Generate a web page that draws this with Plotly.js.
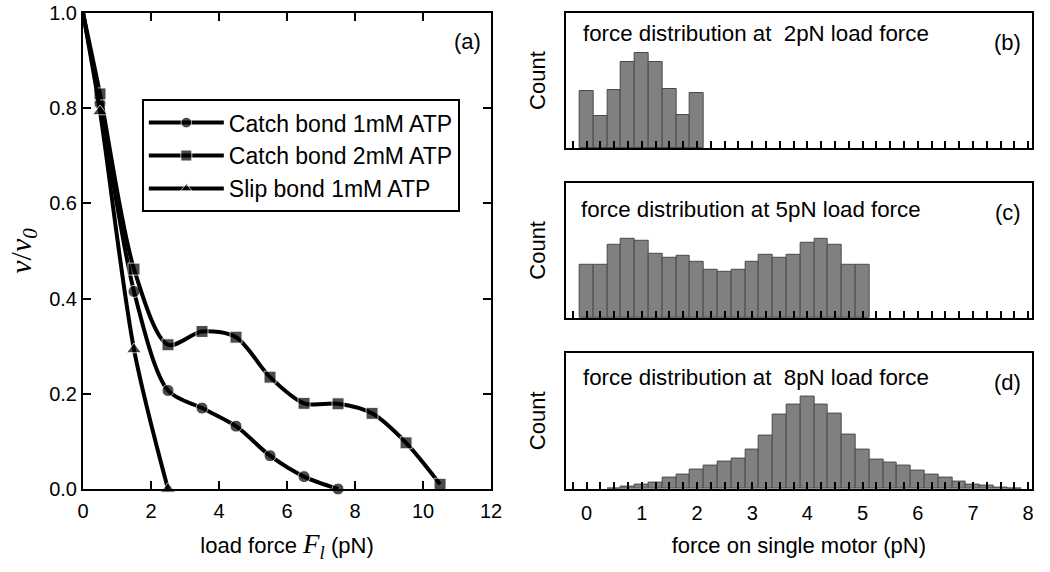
<!DOCTYPE html>
<html>
<head>
<meta charset="utf-8">
<script src="https://cdn.plot.ly/plotly-3.0.1.min.js"></script>
<style>body{margin:0;background:#fff;}#chart{width:1050px;height:572px;}</style>
</head>
<body>
<div id="chart"></div>
<script>
// ---- Panel (a): v/v0 vs load force ----
var loadForce1 = [0, 0.5, 1.5, 2.5, 3.5, 4.5, 5.5, 6.5, 7.5];
var catch1mM   = [1.0, 0.81, 0.415, 0.207, 0.17, 0.132, 0.07, 0.026, 0.0];
var loadForce2 = [0, 0.5, 1.5, 2.5, 3.5, 4.5, 5.5, 6.5, 7.5, 8.5, 9.5, 10.5];
var catch2mM   = [1.0, 0.83, 0.462, 0.303, 0.331, 0.319, 0.235, 0.18, 0.179, 0.159, 0.097, 0.01];
var loadForceS = [0, 0.5, 1.5, 2.5];
var slip1mM    = [1.0, 0.793, 0.293, 0.0];

// ---- Panels (b)-(d): force distributions (arbitrary count units) ----
var binsB = [0, 0.25, 0.5, 0.75, 1.0, 1.25, 1.5, 1.75, 2.0];
var countsB = [57.3, 32.3, 59, 86.7, 95.7, 86.3, 59.3, 33, 56];
var binsC = [0, 0.25, 0.5, 0.75, 1.0, 1.25, 1.5, 1.75, 2.0, 2.25, 2.5, 2.75, 3.0, 3.25, 3.5, 3.75, 4.0, 4.25, 4.5, 4.75, 5.0];
var countsC = [53.3, 53.3, 74, 79.7, 77.3, 65, 60.3, 63, 56.3, 48.7, 46, 48.7, 56, 64, 61, 64, 76, 80, 73.7, 53.3, 53];
var binsD = [0.5, 0.75, 1.0, 1.25, 1.5, 1.75, 2.0, 2.25, 2.5, 2.75, 3.0, 3.25, 3.5, 3.75, 4.0, 4.25, 4.5, 4.75, 5.0, 5.25, 5.5, 5.75, 6.0, 6.25, 6.5, 6.75, 7.0, 7.25, 7.5, 7.75];
var countsD = [0.7, 2.3, 4, 6.7, 11, 14, 19, 23, 27, 30, 39, 53, 74, 84, 92, 84, 75, 54, 39, 29, 26, 23, 18, 14, 11, 7, 4.3, 3, 1.3, 0.3];

var legendNames = ['Catch bond 1mM ATP', 'Catch bond 2mM ATP', 'Slip bond 1mM ATP'];
var panelTitles = ['force distribution at\u00a0 2pN load force', 'force distribution at 5pN load force', 'force distribution at\u00a0 8pN load force'];
var panelLetters = ['(a)', '(b)', '(c)', '(d)'];

var FONT = 'Liberation Sans, Arial, sans-serif';
var SERIF = 'Liberation Serif, Times New Roman, serif';

function sizes(n, s) { var a = []; for (var i = 0; i < n; i++) a.push(i === 0 ? 0 : s); return a; }

function lineTrace(x, y, name, symbol, msize) {
  return {
    type: 'scatter', mode: 'lines+markers', x: x, y: y, name: name,
    xaxis: 'x', yaxis: 'y',
    line: {color: '#000', width: 4, shape: 'spline', smoothing: 0.85},
    marker: {color: '#000', symbol: symbol, size: sizes(x.length, msize)},
    cliponaxis: false
  };
}

function histTrace(x, y, ax) {
  return {
    type: 'bar', x: x, y: y, width: 0.25, showlegend: false,
    xaxis: 'x' + ax, yaxis: 'y' + ax,
    marker: {color: '#808080', line: {color: '#4a4a4a', width: 1}}
  };
}

var data = [
  lineTrace(loadForce1, catch1mM, legendNames[0], 'circle', 12),
  lineTrace(loadForce2, catch2mM, legendNames[1], 'square', 12),
  lineTrace(loadForceS, slip1mM, legendNames[2], 'triangle-up', 13),
  histTrace(binsB, countsB, 2),
  histTrace(binsC, countsC, 3),
  histTrace(binsD, countsD, 4)
];

var axLine = {showline: true, linecolor: '#000', linewidth: 2, zeroline: false, showgrid: false};

function histX(domain, anchor, labels, titleText) {
  var o = Object.assign({}, axLine, {
    domain: domain, anchor: anchor, range: [-0.38, 8.07], mirror: true,
    tickmode: 'linear', tick0: 0, dtick: 1, ticks: 'inside', ticklen: 7, tickwidth: 2, tickcolor: '#000',
    minor: {dtick: 0.25, tick0: 0, ticks: 'inside', ticklen: 7, tickwidth: 2, tickcolor: '#000'},
    showticklabels: labels, tickfont: {family: FONT, size: 20, color: '#000'}, ticklabelstandoff: 5
  });
  if (titleText) o.title = {text: titleText, font: {family: FONT, size: 22, color: '#000'}, standoff: 15};
  return o;
}
function histY(domain, anchor) {
  return Object.assign({}, axLine, {
    domain: domain, anchor: anchor, range: [0, 136], mirror: true, ticks: '', showticklabels: false,
    title: {text: 'Count', font: {family: FONT, size: 22, color: '#000'}, standoff: 12}
  });
}

var layout = {
  width: 1050, height: 572,
  margin: {l: 83, r: 18, t: 13, b: 83},
  paper_bgcolor: '#fff', plot_bgcolor: '#fff',
  font: {family: FONT, color: '#000'},
  bargap: 0,
  showlegend: true,
  legend: {
    x: 0.062, y: 0.819, xref: 'paper', yref: 'paper', xanchor: 'left', yanchor: 'top',
    bordercolor: '#000', borderwidth: 2, bgcolor: '#fff',
    font: {family: FONT, size: 23, color: '#000'}, itemwidth: 75
  },
  xaxis: Object.assign({}, axLine, {
    domain: [0, 0.43], anchor: 'y', range: [0, 12], dtick: 2, mirror: 'ticks',
    ticks: 'inside', ticklen: 8, tickwidth: 2, tickcolor: '#000',
    tickfont: {family: FONT, size: 20, color: '#000'}, ticklabelstandoff: 3,
    title: {text: 'load force <span style="font-family:' + SERIF + ';font-size:27px"><i>F</i><sub><i>l</i></sub></span> (pN)', font: {family: FONT, size: 22, color: '#000'}, standoff: 17}
  }),
  yaxis: Object.assign({}, axLine, {
    domain: [0, 1], anchor: 'x', range: [0, 1], dtick: 0.2, tickformat: '.1f', mirror: 'ticks',
    ticks: 'inside', ticklen: 8, tickwidth: 2, tickcolor: '#000',
    tickfont: {family: FONT, size: 20, color: '#000'},
    title: {text: '<i>v</i>/<i>v</i><sub><i>0</i></sub>', font: {family: SERIF, size: 30, color: '#000'}, standoff: 9}
  }),
  xaxis2: histX([0.5086, 1], 'y2', false),
  yaxis2: histY([0.716, 1], 'x2'),
  xaxis3: histX([0.5086, 1], 'y3', false),
  yaxis3: histY([0.3594, 0.6433], 'x3'),
  xaxis4: histX([0.5086, 1], 'y4', true, 'force on single motor (pN)'),
  yaxis4: histY([0, 0.2866], 'x4'),
  annotations: [
    {xref: 'x domain', yref: 'y domain', x: 0.98, y: 0.94, xanchor: 'right', yanchor: 'middle', text: panelLetters[0], showarrow: false, font: {family: FONT, size: 22}},
    {xref: 'x2 domain', yref: 'y2 domain', x: 0.98, y: 0.78, xanchor: 'right', yanchor: 'middle', text: panelLetters[1], showarrow: false, font: {family: FONT, size: 22}},
    {xref: 'x3 domain', yref: 'y3 domain', x: 0.98, y: 0.78, xanchor: 'right', yanchor: 'middle', text: panelLetters[2], showarrow: false, font: {family: FONT, size: 22}},
    {xref: 'x4 domain', yref: 'y4 domain', x: 0.98, y: 0.78, xanchor: 'right', yanchor: 'middle', text: panelLetters[3], showarrow: false, font: {family: FONT, size: 22}},
    {xref: 'x2 domain', yref: 'y2 domain', x: 0.033, y: 0.85, xanchor: 'left', yanchor: 'middle', text: panelTitles[0], showarrow: false, font: {family: FONT, size: 22.3}},
    {xref: 'x3 domain', yref: 'y3 domain', x: 0.029, y: 0.80, xanchor: 'left', yanchor: 'middle', text: panelTitles[1], showarrow: false, font: {family: FONT, size: 22.3}},
    {xref: 'x4 domain', yref: 'y4 domain', x: 0.033, y: 0.82, xanchor: 'left', yanchor: 'middle', text: panelTitles[2], showarrow: false, font: {family: FONT, size: 22.3}}
  ]
};

Plotly.newPlot('chart', data, layout, {displayModeBar: false, responsive: false});
</script>
</body>
</html>
